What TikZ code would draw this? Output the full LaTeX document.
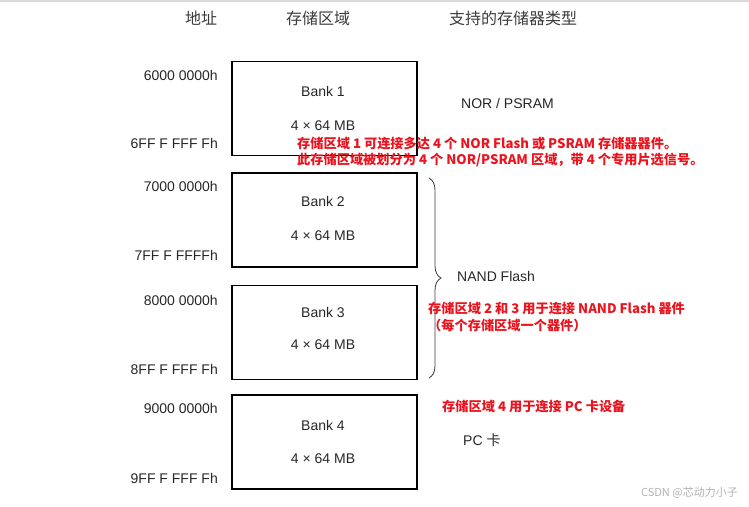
\documentclass[tikz,border=0pt]{standalone}
\usepackage{fontspec}
\setmainfont{Liberation Sans}
\newfontfamily\cjk{Noto Sans CJK SC}
\usetikzlibrary{decorations.pathreplacing}
\definecolor{hinweis}{RGB}{235,20,30}
\definecolor{grau}{RGB}{60,60,60}

\begin{document}
\begin{tikzpicture}[
        x=1pt, y=-1pt,
        bank/.style={
            rectangle,
            draw=black,
            line width=1.4pt,
            minimum width=185pt,
            minimum height=94pt,
            inner sep=0pt
        },
        adresse/.style={
            anchor=east,
            font=\fontsize{14}{16}\selectfont,
            text=black!85,
            inner sep=0pt
        },
        kopf/.style={
            font=\cjk\fontsize{16}{18}\selectfont,
            text=grau,
            inner sep=0pt
        },
        inhalt/.style={
            font=\fontsize{14}{16}\selectfont,
            text=black!85,
            inner sep=0pt
        },
        typ/.style={
            anchor=west,
            font=\fontsize{14}{16}\selectfont,
            text=black!85,
            inner sep=0pt
        },
        notiz/.style={
            anchor=west,
            font=\cjk\bfseries\fontsize{13.2}{16.5}\selectfont,
            text=hinweis,
            align=left,
            inner sep=0pt
        },
        klammer/.style={
            decorate,
            decoration={brace, amplitude=12pt},
            draw=grau,
            line width=0.8pt
        }
    ]
        \useasboundingbox (0,0) rectangle (749,506);
        \draw[black!15, line width=1.5pt] (0,1) -- (749,1);

        % Kopfzeile
        \node[kopf] (hadr) at (201,18) {地址};
        \node[kopf] (hbank) at (318,18) {存储区域};
        \node[kopf] (htyp) at (513,18) {支持的存储器类型};

        % Speicherbereiche
        \node[bank] (bank1) at (324.5,108.5) {};
        \node[bank] (bank2) at (324.5,220) {};
        \node[bank] (bank3) at (324.5,332.5) {};
        \node[bank] (bank4) at (324.5,442) {};

        \node[inhalt] (b1name) at (323,91) {Bank 1};
        \node[inhalt] (b1size) at (323,126) {4 × 64 MB};
        \node[inhalt] (b2name) at (323,201) {Bank 2};
        \node[inhalt] (b2size) at (323,236) {4 × 64 MB};
        \node[inhalt] (b3name) at (323,312) {Bank 3};
        \node[inhalt] (b3size) at (323,345) {4 × 64 MB};
        \node[inhalt] (b4name) at (323,425) {Bank 4};
        \node[inhalt] (b4size) at (323,459) {4 × 64 MB};

        % Adressen
        \node[adresse] (a1) at (218,75) {6000 0000h};
        \node[adresse] (e1) at (218,143) {6FF F FFF Fh};
        \node[adresse] (a2) at (218,186) {7000 0000h};
        \node[adresse] (e2) at (218,255) {7FF F FFFFh};
        \node[adresse] (a3) at (218,300) {8000 0000h};
        \node[adresse] (e3) at (218,369) {8FF F FFF Fh};
        \node[adresse] (a4) at (218,408) {9000 0000h};
        \node[adresse] (e4) at (218,478) {9FF F FFF Fh};

        % Speichertypen
        \node[typ] (nor) at (461,103) {NOR / PSRAM};
        \node[typ] (nand) at (457,276) {NAND Flash};
        \node[typ] (pc) at (463,440) {PC {\cjk 卡}};

        \coordinate (kloben) at (429,178);
        \coordinate (klunten) at (429,378);
        \draw[klammer] (kloben) -- (klunten);

        % Hinweise
        \node[notiz] (n1) at (297,152) {存储区域 1 可连接多达 4 个 NOR Flash 或 PSRAM 存储器器件。\\
            此存储区域被划分为 4 个 NOR/PSRAM 区域，带 4 个专用片选信号。};
        \node[notiz] (n2) at (428,317) {存储区域 2 和 3 用于连接 NAND Flash 器件\\
            （每个存储区域一个器件）};
        \node[notiz] (n3) at (442,407) {存储区域 4 用于连接 PC 卡设备};

        \node[anchor=east, font=\cjk\fontsize{11}{13}\selectfont, text=black!30, inner sep=0pt] (csdn) at (738,493) {CSDN @芯动力小子};
    \end{tikzpicture}
\end{document}
